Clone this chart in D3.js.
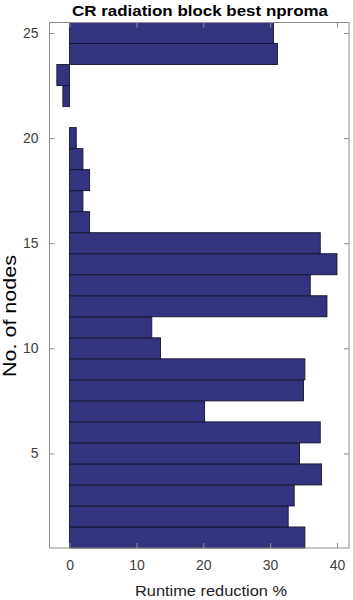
<!DOCTYPE html>
<html>
<head>
<meta charset="utf-8">
<script src="https://cdn.jsdelivr.net/npm/d3@7"></script>
<style>
  body { margin: 0; background: #fff; }
  svg { display: block; font-family: "Liberation Sans", Arial, sans-serif; }
</style>
</head>
<body>
<svg id="chart" width="353" height="600"></svg>
<script>
// number of nodes, one bar each
var nodes = [1, 2, 3, 4, 5, 6, 7, 8, 9, 10, 11, 12, 13, 14, 15, 16, 17, 18, 19, 20, 21, 22, 23, 24, 25];
// runtime reduction in percent
var reduction = [35.2, 32.7, 33.6, 37.7, 34.4, 37.5, 20.2, 35.0, 35.2, 13.6, 12.3, 38.5, 36.0, 40.0, 37.5,
                 3.0, 2.0, 3.0, 2.0, 1.0, 0, -1.0, -1.9, 31.1, 30.5];
var xTicks = [0, 10, 20, 30, 40];
var yTicks = [5, 10, 15, 20, 25];

var margin = { left: 49.5, right: 4, top: 22.5, bottom: 52 },
    width = 353, height = 600,
    svg = d3.select( '#chart' );

var x = d3.scaleLinear().domain( [-3, 41.8] ).range( [margin.left, width - margin.right] ),
    y = d3.scaleLinear().domain( [0.5, 25.5] ).range( [height - margin.bottom, margin.top] );

var boxColor = '#8f8f8f',
    textColor = '#404040';

// bars
svg.append( 'g' )
  .selectAll( 'rect' )
  .data( nodes )
  .enter()
  .append( 'rect' )
    .attr( 'x', function(d, i) { return x( Math.min( 0, reduction[i] ) ); } )
    .attr( 'width', function(d, i) { return Math.abs( x( reduction[i] ) - x( 0 ) ); } )
    .attr( 'y', function(d) { return y( d + 0.5 ); } )
    .attr( 'height', function(d) { return y( d - 0.5 ) - y( d + 0.5 ); } )
    .attr( 'fill', '#33337f' )
    .attr( 'stroke', '#15152e' )
    .attr( 'stroke-width', 0.9 )
    .style( 'display', function(d, i) { return reduction[i] === 0 ? 'none' : null; } );

// axes, ticks pointing inwards on all four sides
function styleAxis( g ) {
  g.select( '.domain' ).remove();
  g.selectAll( '.tick line' ).attr( 'stroke', boxColor );
  g.selectAll( '.tick text' ).attr( 'fill', textColor ).style( 'font-size', '14px' );
}

svg.append( 'g' )
  .attr( 'transform', 'translate(0,' + y.range()[0] + ')' )
  .call( d3.axisBottom( x ).tickValues( xTicks ).tickSize( -5 ).tickPadding( 12 ) )
  .call( styleAxis );

svg.append( 'g' )
  .attr( 'transform', 'translate(0,' + y.range()[1] + ')' )
  .call( d3.axisTop( x ).tickValues( xTicks ).tickSize( -5 ).tickFormat( '' ) )
  .call( styleAxis );

svg.append( 'g' )
  .attr( 'transform', 'translate(' + x.range()[0] + ',0)' )
  .call( d3.axisLeft( y ).tickValues( yTicks ).tickSize( -5 ).tickPadding( 11 ) )
  .call( styleAxis );

svg.append( 'g' )
  .attr( 'transform', 'translate(' + x.range()[1] + ',0)' )
  .call( d3.axisRight( y ).tickValues( yTicks ).tickSize( -5 ).tickFormat( '' ) )
  .call( styleAxis );

// box
svg.append( 'rect' )
  .attr( 'x', x.range()[0] )
  .attr( 'y', y.range()[1] )
  .attr( 'width', x.range()[1] - x.range()[0] )
  .attr( 'height', y.range()[0] - y.range()[1] )
  .attr( 'fill', 'none' )
  .attr( 'stroke', boxColor )
  .attr( 'stroke-width', 1 );

// title and labels
svg.append( 'text' )
  .attr( 'x', 200 )
  .attr( 'y', 16 )
  .attr( 'text-anchor', 'middle' )
  .attr( 'textLength', 256 )
  .attr( 'lengthAdjust', 'spacingAndGlyphs' )
  .style( 'font-size', '15px' )
  .style( 'font-weight', 'bold' )
  .attr( 'fill', '#000' )
  .text( 'CR radiation block best nproma' );

svg.append( 'text' )
  .attr( 'x', 211 )
  .attr( 'y', 596 )
  .attr( 'text-anchor', 'middle' )
  .attr( 'textLength', 152 )
  .attr( 'lengthAdjust', 'spacingAndGlyphs' )
  .style( 'font-size', '15px' )
  .attr( 'fill', '#222' )
  .text( 'Runtime reduction %' );

svg.append( 'text' )
  .attr( 'transform', 'translate(16,316) rotate(-90)' )
  .attr( 'text-anchor', 'middle' )
  .attr( 'textLength', 122 )
  .attr( 'lengthAdjust', 'spacingAndGlyphs' )
  .style( 'font-size', '19px' )
  .attr( 'fill', '#000' )
  .text( 'No. of nodes' );
</script>
</body>
</html>
